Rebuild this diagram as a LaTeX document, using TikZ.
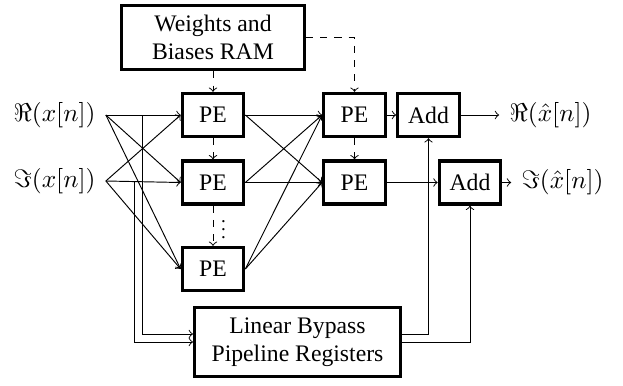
\documentclass[tikz,border=0pt]{standalone}
\usepackage{graphicx}
\usepackage{fontspec}
\setmainfont{Liberation Serif}
\newcommand{\biglab}[1]{\scalebox{1.07}{#1}}
\begin{document}
\begin{tikzpicture}[x=0.4219pt,y=-0.4219pt,
  blockbox/.style={draw,line width=1.4pt,align=center,inner sep=0pt,outer sep=0.7pt},
  pebox/.style={blockbox,minimum width=25.9pt,minimum height=18.2pt},
  conn/.style={->,line width=0.4pt},
  dconn/.style={->,dashed,line width=0.4pt},
  lbl/.style={inner sep=0pt,outer sep=4.4pt}]
\useasboundingbox (0,0) rectangle (623,385);
\node[blockbox,minimum width=77.1pt,minimum height=27.1pt] (ram) at (213,37.5) {Weights and\\Biases RAM};
\node[pebox] (p1) at (213,115) {PE};
\node[pebox] (p2) at (213,182.5) {PE};
\node[pebox] (p3) at (213,269) {PE};
\node[pebox] (q1) at (354.5,115) {PE};
\node[pebox] (q2) at (354.5,182.5) {PE};
\node[pebox] (a1) at (428.5,115) {Add};
\node[pebox] (a2) at (470,182.5) {Add};
\node[blockbox,minimum width=86.8pt,minimum height=29pt] (lin) at (297.5,342) {Linear Bypass\\Pipeline Registers};
\node[lbl] (re) at (54.5,115) {\biglab{$\Re(x[n])$}};
\node[lbl] (im) at (54.5,181) {\biglab{$\Im(x[n])$}};
\node[lbl] (reo) at (550.5,115) {\biglab{$\Re(\hat{x}[n])$}};
\node[lbl] (imo) at (562.5,182.5) {\biglab{$\Im(\hat{x}[n])$}};
\node[inner sep=0pt] (dots) at (223.5,224) {\scalebox{0.8}{$\vdots$}};
\foreach \s in {re,im}\foreach \t in {p1,p2,p3}\draw[conn] (\s.east) -- (\t.west);
\foreach \s in {p1,p2,p3}\foreach \t in {q1,q2}\draw[conn] (\s.east) -- (\t.west);
\draw[conn] (re.east -| 142,0) -- (142,334) -- (lin.west |- 0,334);
\draw[conn] (im.east -| 134,0) -- (134,342) -- (lin.west |- 0,342);
\draw[dconn] (ram.south) -- (p1.north);
\draw[dconn] (p1.south) -- (p2.north);
\draw[dconn] (p2.south) -- (p3.north);
\draw[dconn] (q1.south) -- (q2.north);
\draw[dconn] (ram.east |- 0,37.5) -- (q1.north |- 0,37.5) -- (q1.north);
\draw[conn] (q1.east) -- (a1.west);
\draw[conn] (q2.east) -- (a2.west);
\draw[conn] (a1.east) -- (reo.west);
\draw[conn] (a2.east) -- (imo.west);
\draw[conn] (lin.east |- 0,334) -| (a1.south);
\draw[conn] (lin.east |- 0,342) -| (a2.south);
\end{tikzpicture}
\end{document}
